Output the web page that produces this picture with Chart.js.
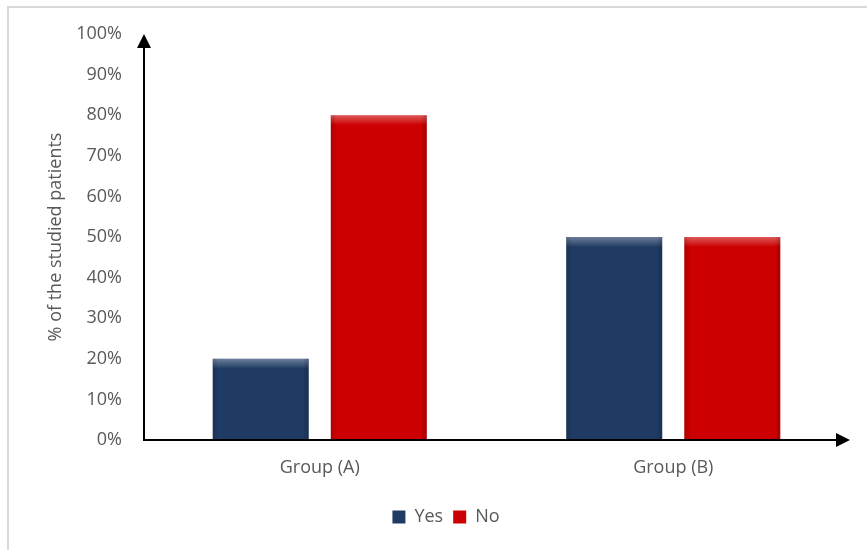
<!DOCTYPE html>
<html>
<head>
<meta charset="utf-8">
<script src="https://cdn.jsdelivr.net/npm/chart.js@4/dist/chart.umd.min.js"></script>
<style>
  html, body { margin: 0; padding: 0; background: #fff; }
  #wrap { width: 867px; height: 550px; position: relative; }
</style>
</head>
<body>
<div id="wrap"><canvas id="chart" width="867" height="550"></canvas></div>
<script>
// values (percent of patients)
const kategori = ['Group (A)', 'Group (B)'];
const nilaiYes = [20, 50];
const nilaiNo = [80, 50];
const tickY = [0, 10, 20, 30, 40, 50, 60, 70, 80, 90, 100];

const warnaYes = '#1F3B63';
const warnaNo = '#CC0000';
const abu = '#595959';
const fontUtama = '"Open Sans", sans-serif';
const ukuranFont = 18;

// frame and arrowed axes
const sumbuPanah = {
    id: 'sumbuPanah',
    afterLayout(chart) {
        // legend sits a bit right of the canvas centre
        chart.legend.left += 21;
        chart.legend.right += 21;
    },
    beforeDraw(chart) {
        const ctx = chart.ctx;
        ctx.save();
        ctx.strokeStyle = '#d9d9d9';
        ctx.lineWidth = 2;
        ctx.strokeRect(8, 7, 950, 650);
        ctx.restore();
    },
    afterDatasetsDraw(chart) {
        const ctx = chart.ctx;
        const x = chart.scales.x;
        const y = chart.scales.y;
        const x0 = x.left + 1;
        const y0 = y.getPixelForValue(0);
        const yTop = y.getPixelForValue(100);
        const xEnd = x.right;

        ctx.save();
        ctx.strokeStyle = '#000';
        ctx.fillStyle = '#000';
        ctx.lineWidth = 2;

        ctx.beginPath();
        ctx.moveTo(x0, y0);
        ctx.lineTo(x0, yTop + 10);
        ctx.stroke();
        ctx.beginPath();
        ctx.moveTo(x0, yTop);
        ctx.lineTo(x0 - 7, yTop + 14);
        ctx.lineTo(x0 + 7, yTop + 14);
        ctx.closePath();
        ctx.fill();

        ctx.beginPath();
        ctx.moveTo(x0 - 1, y0);
        ctx.lineTo(xEnd - 10, y0);
        ctx.stroke();
        ctx.beginPath();
        ctx.moveTo(xEnd, y0);
        ctx.lineTo(xEnd - 14, y0 - 7);
        ctx.lineTo(xEnd - 14, y0 + 7);
        ctx.closePath();
        ctx.fill();
        ctx.restore();
    }
};

// soft bevel on each bar
const bevelBar = {
    id: 'bevelBar',
    afterDatasetsDraw(chart) {
        const ctx = chart.ctx;
        chart.data.datasets.forEach((ds, i) => {
            chart.getDatasetMeta(i).data.forEach(bar => {
                const l = bar.x - bar.width / 2;
                const t = bar.y;
                const w = bar.width;
                const h = bar.base - bar.y;
                ctx.save();
                let g = ctx.createLinearGradient(0, t, 0, t + 10);
                g.addColorStop(0, 'rgba(255,255,255,0.35)');
                g.addColorStop(1, 'rgba(255,255,255,0)');
                ctx.fillStyle = g;
                ctx.fillRect(l, t, w, 10);
                g = ctx.createLinearGradient(l, 0, l + 6, 0);
                g.addColorStop(0, 'rgba(0,0,0,0.15)');
                g.addColorStop(1, 'rgba(0,0,0,0)');
                ctx.fillStyle = g;
                ctx.fillRect(l, t, 6, h);
                g = ctx.createLinearGradient(l + w, 0, l + w - 6, 0);
                g.addColorStop(0, 'rgba(0,0,0,0.2)');
                g.addColorStop(1, 'rgba(0,0,0,0)');
                ctx.fillStyle = g;
                ctx.fillRect(l + w - 6, t, 6, h);
                ctx.restore();
            });
        });
    }
};

const ctx = document.getElementById('chart').getContext('2d');

new Chart(ctx, {
    type: 'bar',
    data: {
        labels: kategori,
        datasets: [
            {
                label: 'Yes',
                data: nilaiYes,
                backgroundColor: warnaYes,
                borderWidth: 0,
                categoryPercentage: 0.668,
                barPercentage: 0.813
            },
            {
                label: 'No',
                data: nilaiNo,
                backgroundColor: warnaNo,
                borderWidth: 0,
                categoryPercentage: 0.668,
                barPercentage: 0.813
            }
        ]
    },
    options: {
        responsive: false,
        animation: false,
        layout: { padding: { top: 34, right: 17, bottom: 14, left: 0 } },
        plugins: {
            tooltip: { enabled: false },
            legend: {
                position: 'bottom',
                labels: {
                    boxWidth: 13,
                    boxHeight: 13,
                    padding: 10,
                    color: abu,
                    font: { family: fontUtama, size: ukuranFont }
                }
            }
        },
        scales: {
            x: {
                grid: { display: false, drawTicks: false },
                border: { display: false },
                ticks: { color: abu, padding: 17, font: { family: fontUtama, size: ukuranFont } },
                afterFit(scale) { scale.height = 58; }
            },
            y: {
                min: 0,
                max: 100,
                afterBuildTicks(scale) { scale.ticks = tickY.map(v => ({ value: v })); },
                grid: { display: false, drawTicks: false },
                border: { display: false },
                ticks: {
                    color: abu,
                    padding: 21,
                    font: { family: fontUtama, size: ukuranFont },
                    callback: v => v + '%'
                },
                title: {
                    display: true,
                    text: '% of the studied patients',
                    color: abu,
                    padding: { top: 45, bottom: 0 },
                    font: { family: fontUtama, size: ukuranFont }
                },
                afterFit(scale) { scale.width = 143; }
            }
        }
    },
    plugins: [sumbuPanah, bevelBar]
});
</script>
</body>
</html>
